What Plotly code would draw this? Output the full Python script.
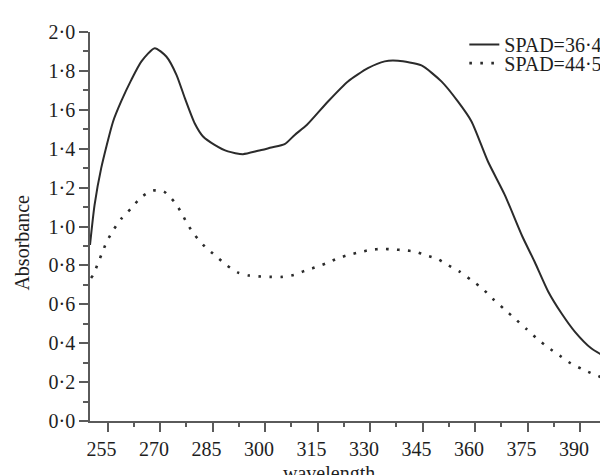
import plotly.graph_objects as go

# ---- data ----
wl_a = [250.0, 251.3, 253.2, 256.6, 258.9, 261.8, 264.7, 268.5, 271.8, 274.7, 277.1, 279.9,
        282.3, 285.6, 289.4, 293.7, 298.0, 301.8, 305.6, 308.5, 312.0, 318.0, 323.7, 329.4,
        334.2, 338.0, 344.7, 350.4, 355.1, 359.0, 363.7, 368.5, 373.5, 377.0, 380.9, 384.7,
        388.5, 393.2, 398.0, 399.7]
abs_a = [0.905, 1.11, 1.30, 1.54, 1.643, 1.754, 1.849, 1.917, 1.874, 1.78, 1.66, 1.531,
         1.463, 1.42, 1.386, 1.372, 1.389, 1.406, 1.423, 1.471, 1.523, 1.643, 1.746, 1.814,
         1.849, 1.852, 1.828, 1.746, 1.643, 1.54, 1.334, 1.163, 0.95, 0.82, 0.666, 0.554,
         0.460, 0.374, 0.323, 0.314]

wl_b = [250.3, 250.9, 252.3, 253.7, 254.9, 256.8, 258.9, 261.8, 264.7, 268.0, 271.1, 274.0,
        276.1, 277.8, 279.9, 282.8, 285.9, 289.2, 292.3, 295.4, 298.8, 301.8, 304.9, 308.2,
        311.3, 314.2, 317.5, 320.9, 323.9, 327.1, 330.2, 333.5, 336.6, 339.7, 342.9, 346.1,
        349.4, 352.5, 355.6, 358.9, 362.0, 365.1, 368.3, 371.3, 374.7, 377.8, 380.9, 384.2,
        387.3, 390.6, 393.7, 396.9, 399.7]
abs_b = [0.735, 0.751, 0.811, 0.875, 0.926, 0.985, 1.039, 1.094, 1.152, 1.185, 1.18, 1.128,
         1.072, 1.013, 0.957, 0.897, 0.849, 0.799, 0.763, 0.748, 0.743, 0.741, 0.741, 0.751,
         0.772, 0.789, 0.811, 0.837, 0.854, 0.868, 0.880, 0.885, 0.882, 0.878, 0.871, 0.851,
         0.832, 0.799, 0.768, 0.725, 0.683, 0.628, 0.576, 0.528, 0.473, 0.422, 0.378, 0.336,
         0.297, 0.267, 0.242, 0.220, 0.211]

series_names = ["SPAD=36·4", "SPAD=44·5"]

x_ticks = [255, 270, 285, 300, 315, 330, 345, 360, 375, 390]
x_ticktext = [str(v) for v in x_ticks]
y_ticks = [0.0, 0.2, 0.4, 0.6, 0.8, 1.0, 1.2, 1.4, 1.6, 1.8, 2.0]
y_ticktext = [f"{v:.1f}".replace(".", "·") for v in y_ticks]

FONT = "Liberation Serif, Times New Roman, serif"
LINE = "#2b2b2b"
AXIS = "#5a5a5a"
TEXT = "#1e1e1e"

fig = go.Figure()
fig.add_trace(go.Scatter(x=wl_a, y=abs_a, mode="lines", name=series_names[0],
                         line=dict(color=LINE, width=2, shape="spline", smoothing=0.6),
                         legend="legend"))
fig.add_trace(go.Scatter(x=wl_b, y=abs_b, mode="lines", name=series_names[1],
                         line=dict(color=LINE, width=2.6, dash="2.6px,8.4px",
                                   shape="spline", smoothing=0.6),
                         legend="legend2"))

axis_common = dict(showgrid=False, zeroline=False, showline=True, linecolor=AXIS,
                   linewidth=1.6, ticks="outside", tickcolor=AXIS, tickwidth=1.6,
                   ticklen=9, tickfont=dict(family=FONT, size=20, color=TEXT))

fig.update_xaxes(range=[250, 400], tickmode="array", tickvals=x_ticks, ticktext=x_ticktext,
                 ticklabelshift=-6,
                 minor=dict(ticks="outside", ticklen=4, tickcolor=AXIS, tickwidth=1.6,
                            tick0=255, dtick=7.5),
                 **axis_common)
fig.update_yaxes(range=[0, 2.0], tickmode="array", tickvals=y_ticks, ticktext=y_ticktext,
                 minor=dict(ticks="outside", ticklen=5, tickcolor=AXIS, tickwidth=1.6,
                            tick0=0, dtick=0.1),
                 **axis_common)

legend_common = dict(font=dict(family=FONT, size=20, color=TEXT), bgcolor="rgba(0,0,0,0)",
                     borderwidth=0, xanchor="left", yanchor="middle", x=0.713,
                     itemwidth=30, tracegroupgap=0)

fig.update_layout(
    width=608, height=475,
    margin=dict(l=82, r=1, t=24, b=62),
    paper_bgcolor="white", plot_bgcolor="white",
    showlegend=True,
    legend=dict(y=0.968, **legend_common),
    legend2=dict(y=0.920, **legend_common),
    annotations=[
        dict(text="Absorbance", xref="paper", yref="paper", x=-0.13, y=0.458,
             xanchor="center", yanchor="middle", textangle=-90, showarrow=False,
             font=dict(family=FONT, size=20, color=TEXT)),
        dict(text="wavelength", xref="paper", yref="paper", x=0.455, y=-0.099,
             xanchor="center", yanchor="top", showarrow=False,
             font=dict(family=FONT, size=20, color=TEXT)),
    ],
)

fig.write_html("out.html")
